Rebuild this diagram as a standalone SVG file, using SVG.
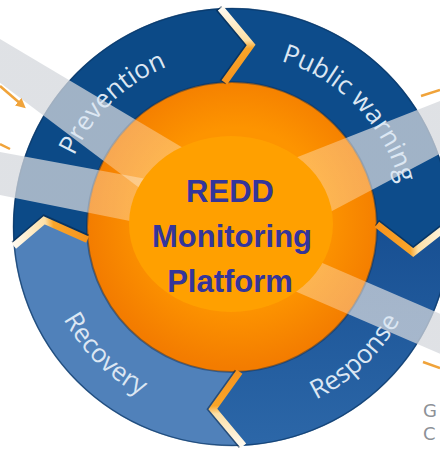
<svg xmlns="http://www.w3.org/2000/svg" width="440" height="449" viewBox="0 0 440 449">
<style>
.seg{stroke:none}
.band{fill:url(#bandFill);stroke:none}
.chev{fill:none;stroke-width:7;stroke-linejoin:miter;stroke-linecap:butt}
.chevsh{fill:none;stroke:#062344;stroke-width:7;opacity:0.55}
.arc{font-family:"Open Sans","DejaVu Sans",sans-serif;font-size:26px;fill:#dce7f3}
.core{font-family:"Liberation Sans",Arial,sans-serif;font-size:31px;font-weight:bold;fill:#34359b;text-anchor:middle}
.side{font-family:"DejaVu Sans",sans-serif;font-size:18px;fill:#8d9197}
.mark{stroke:#f0a33a;stroke-width:2.5;fill:none}
</style>
<defs>
<radialGradient id="diskFill" cx="236" cy="218" r="150" gradientUnits="userSpaceOnUse">
<stop offset="0.6" stop-color="#fd9400"/>
<stop offset="1" stop-color="#f37c00"/>
</radialGradient>
<radialGradient id="bandFill" cx="232" cy="227" r="219" gradientUnits="userSpaceOnUse">
<stop offset="0" stop-color="#ffffff" stop-opacity="0.32"/>
<stop offset="0.655" stop-color="#ffffff" stop-opacity="0.32"/>
<stop offset="0.668" stop-color="#d4d7dc" stop-opacity="0.74"/>
<stop offset="1" stop-color="#d4d7dc" stop-opacity="0.74"/>
</radialGradient>
<linearGradient id="respFill" x1="0" y1="0" x2="0" y2="1">
<stop offset="0" stop-color="#174f92"/>
<stop offset="1" stop-color="#2c67a8"/>
</linearGradient>
<linearGradient id="chT" gradientUnits="userSpaceOnUse" x1="220.5" y1="8.3" x2="224.4" y2="82.2">
<stop offset="0" stop-color="#fffaf0"/><stop offset="0.45" stop-color="#fde0a6"/><stop offset="0.56" stop-color="#f9a52a"/><stop offset="1" stop-color="#f7941d"/>
</linearGradient>
<linearGradient id="chR" gradientUnits="userSpaceOnUse" x1="451" y1="223.2" x2="377" y2="224.5">
<stop offset="0" stop-color="#fffaf0"/><stop offset="0.45" stop-color="#fde0a6"/><stop offset="0.56" stop-color="#f9a52a"/><stop offset="1" stop-color="#f7941d"/>
</linearGradient>
<linearGradient id="chB" gradientUnits="userSpaceOnUse" x1="243.5" y1="445.7" x2="239.6" y2="371.8">
<stop offset="0" stop-color="#fffaf0"/><stop offset="0.45" stop-color="#fde0a6"/><stop offset="0.56" stop-color="#f9a52a"/><stop offset="1" stop-color="#f7941d"/>
</linearGradient>
<linearGradient id="chL" gradientUnits="userSpaceOnUse" x1="13.8" y1="246.1" x2="87.6" y2="239.6">
<stop offset="0" stop-color="#fffaf0"/><stop offset="0.45" stop-color="#fde0a6"/><stop offset="0.56" stop-color="#f9a52a"/><stop offset="1" stop-color="#f7941d"/>
</linearGradient>
<path id="topArc" d="M 59 227 A 173 173 0 0 1 405 227"/>
<path id="botArc" d="M 40 227 A 192 192 0 0 0 424 227"/>
<marker id="ah" viewBox="0 0 10 10" refX="5" refY="5" markerWidth="4" markerHeight="4" orient="auto">
<path d="M0 0 L10 5 L0 10 Z" fill="#f0a33a"/>
</marker>
</defs>
<rect x="0" y="0" width="440" height="449" fill="#ffffff"/>
<g id="core-disk">
<circle cx="232" cy="227" r="146" fill="url(#diskFill)"/>
</g>
<g id="node-prevention">
<path class="seg" fill="#0c4a87" d="M 13.83 246.09 A 219 219 0 0 1 220.54 8.30 L 251.13 45.00 L 224.41 82.20 A 145 145 0 0 0 87.55 239.64 L 44.10 220.40 Z"/>
</g>
<g id="node-public-warning">
<path class="seg" fill="#0d4c8b" d="M 220.54 8.30 A 219 219 0 0 1 450.97 223.18 L 413.22 252.47 L 376.98 224.47 A 145 145 0 0 0 224.41 82.20 L 251.13 45.00 Z"/>
</g>
<g id="node-response">
<path class="seg" fill="url(#respFill)" d="M 450.97 223.18 A 219 219 0 0 1 243.46 445.70 L 212.87 409.00 L 239.59 371.80 A 145 145 0 0 0 376.98 224.47 L 413.22 252.47 Z"/>
</g>
<g id="node-recovery">
<path class="seg" fill="#5081ba" d="M 243.46 445.70 A 219 219 0 0 1 13.83 246.09 L 44.10 220.40 L 87.55 239.64 A 145 145 0 0 0 239.59 371.80 L 212.87 409.00 Z"/>
</g>
<g id="ring-edges">
<circle cx="232" cy="227" r="218.5" fill="none" stroke="#0b3766" stroke-width="1.5" opacity="0.7"/>
<circle cx="232" cy="227" r="145" fill="none" stroke="#0a2a50" stroke-width="2" opacity="0.45"/>
</g>
<g id="connectors">
<polygon class="band" points="-5,36 200,158 170,211 -5,79"/>
<polygon class="band" points="-5,151 190,187 180,231 -5,194"/>
<polygon class="band" points="445,99 290,160 300,228 445,151"/>
<polygon class="band" points="290,249 445,316 445,356 290,289"/>
<line class="mark" x1="0" y1="86" x2="22" y2="105" marker-end="url(#ah)"/>
<line class="mark" x1="0" y1="144" x2="10" y2="149"/>
<line class="mark" x1="421" y1="96" x2="440" y2="90" stroke="#e8c060"/>
<line class="mark" x1="423" y1="362" x2="440" y2="368"/>
</g>
<g id="chevrons">
<polyline class="chevsh" points="218.5,8.3 249.1,45.0 222.4,82.2"/>
<polyline class="chev" stroke="url(#chT)" points="220.54,8.30 251.13,45.00 224.41,82.20"/>
<polyline class="chevsh" points="450.97,221.18 413.22,250.47 376.98,222.47"/>
<polyline class="chev" stroke="url(#chR)" points="450.97,223.18 413.22,252.47 376.98,224.47"/>
<polyline class="chevsh" points="241.46,445.70 210.87,409.00 237.59,371.80"/>
<polyline class="chev" stroke="url(#chB)" points="243.46,445.70 212.87,409.00 239.59,371.80"/>
<polyline class="chevsh" points="13.83,244.09 44.10,218.40 87.55,237.64"/>
<polyline class="chev" stroke="url(#chL)" points="13.83,246.09 44.10,220.40 87.55,239.64"/>
</g>
<g id="node-center">
<ellipse cx="231" cy="224" rx="102" ry="88" fill="#ffa000"/>
<text class="core" x="230" y="202">REDD</text>
<text class="core" x="232" y="247">Monitoring</text>
<text class="core" x="230" y="292">Platform</text>
</g>
<g id="labels">
<text class="arc"><textPath href="#topArc" startOffset="139" text-anchor="middle">Prevention</textPath></text>
<text class="arc"><textPath href="#topArc" startOffset="410" text-anchor="middle">Public warning</textPath></text>
<text class="arc"><textPath href="#botArc" startOffset="151" text-anchor="middle">Recovery</textPath></text>
<text class="arc"><textPath href="#botArc" startOffset="447" text-anchor="middle">Response</textPath></text>
</g>
<g id="side-text">
<text class="side" x="423" y="417">G</text>
<text class="side" x="423" y="440">C</text>
</g>
</svg>
